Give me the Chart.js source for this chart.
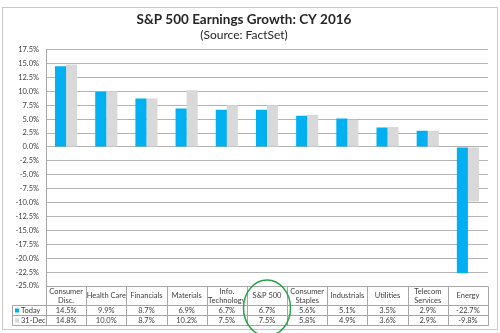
<!DOCTYPE html>
<html>
<head>
<meta charset="utf-8">
<script src="https://cdn.jsdelivr.net/npm/chart.js@4"></script>
<style>
  html, body { margin: 0; padding: 0; background: #fff; }
  #wrap { width: 500px; height: 333px; position: relative; }
</style>
</head>
<body>
<div id="wrap"><canvas id="chart"></canvas></div>
<script>
// data
const categories = [["Consumer", "Disc."], "Health Care", "Financials", "Materials", ["Info.", "Technology"], "S&P 500", ["Consumer", "Staples"], "Industrials", "Utilities", ["Telecom", "Services"], "Energy"];
const seriesNames = ["Today", "31-Dec"];
const today = [14.5, 9.9, 8.7, 6.9, 6.7, 6.7, 5.6, 5.1, 3.5, 2.9, -22.7];
const dec31 = [14.8, 10.0, 8.7, 10.2, 7.5, 7.5, 5.8, 4.9, 3.6, 2.9, -9.8];
const yMin = -25, yMax = 17.5, yStep = 2.5;
const highlightIndex = 5; // S&P 500 column circled in green

const colors = ["#00b0f0", "#d9d9d9"];
const font = "Lato, 'Liberation Sans', sans-serif";

// outer frame + data table drawn under the plot
const tablePlugin = {
  id: "dataTable",
  beforeDraw(chart) {
    const ctx = chart.ctx;
    ctx.save();
    ctx.strokeStyle = "#c8c8c8";
    ctx.lineWidth = 1;
    ctx.strokeRect(2.5, 7.5, 495, 322);
    ctx.restore();
  },
  afterDraw(chart) {
    const { ctx, chartArea: a, scales: { x } } = chart;
    const n = categories.length;
    const colW = (a.right - a.left) / n;
    const top = Math.round(a.bottom) + 0.5;
    const r1 = top + 19, r2 = r1 + 10, r3 = r2 + 10;
    const legL = 12.5;

    ctx.save();
    ctx.strokeStyle = "#a6a6a6";
    ctx.lineWidth = 1;
    const line = (x1, y1, x2, y2) => {
      ctx.beginPath(); ctx.moveTo(x1, y1); ctx.lineTo(x2, y2); ctx.stroke();
    };
    line(a.left, top, a.right, top);
    [r1, r2, r3].forEach(y => line(legL, y, Math.round(a.right) + 0.5, y));
    for (let i = 0; i <= n; i++) {
      const xx = Math.round(a.left + i * colW) + 0.5;
      line(xx, top, xx, r3);
    }
    line(legL, r1, legL, r3);

    ctx.fillStyle = "#404040";
    ctx.textAlign = "center";
    ctx.textBaseline = "middle";
    ctx.font = "7.5px " + font;
    categories.forEach((c, i) => {
      const cx = x.getPixelForValue(i);
      const lines = Array.isArray(c) ? c : [c];
      const mid = (top + r1) / 2;
      lines.forEach((t, k) => {
        ctx.fillText(t, cx, mid + (k - (lines.length - 1) / 2) * 8.5);
      });
      ctx.fillText(today[i].toFixed(1) + "%", cx, (r1 + r2) / 2 + 0.5);
      ctx.fillText(dec31[i].toFixed(1) + "%", cx, (r2 + r3) / 2 + 0.5);
    });

    // legend keys in the first table column
    [r1, r2].forEach((y, k) => {
      ctx.fillStyle = colors[k];
      ctx.fillRect(15, y + 3, 4, 4);
      ctx.fillStyle = "#404040";
      ctx.textAlign = "left";
      ctx.fillText(seriesNames[k], 21, y + 5.5);
    });

    // green circle round the S&P 500 column
    ctx.strokeStyle = "#2ca24a";
    ctx.lineWidth = 1.5;
    ctx.beginPath();
    ctx.ellipse(x.getPixelForValue(highlightIndex), (top + r3) / 2 + 2, 23.5, 28, 0, 0, Math.PI * 2);
    ctx.stroke();
    ctx.restore();
  }
};

new Chart(document.getElementById("chart"), {
  type: "bar",
  data: {
    labels: categories,
    datasets: [
      { label: seriesNames[0], data: today, backgroundColor: colors[0] },
      { label: seriesNames[1], data: dec31, backgroundColor: colors[1] }
    ]
  },
  options: {
    responsive: true,
    maintainAspectRatio: false,
    animation: false,
    layout: { padding: { left: 0, right: 12, top: 0, bottom: 47 } },
    datasets: { bar: { categoryPercentage: 0.55, barPercentage: 1.0 } },
    plugins: {
      legend: { display: false },
      tooltip: { enabled: false },
      title: {
        display: true,
        text: "S&P 500 Earnings Growth: CY 2016",
        color: "#262626",
        font: { family: font, size: 13.5, weight: "bold" },
        padding: { top: 12, bottom: 0 }
      },
      subtitle: {
        display: true,
        text: "(Source: FactSet)",
        color: "#262626",
        font: { family: font, size: 12 },
        padding: { top: 0, bottom: 7 }
      }
    },
    scales: {
      x: { display: false },
      y: {
        min: yMin,
        max: yMax,
        afterFit(scale) { scale.width = 46; },
        ticks: {
          stepSize: yStep,
          padding: 7,
          color: "#404040",
          font: { family: font, size: 7.5 },
          callback: v => v.toFixed(1) + "%"
        },
        grid: { color: "#b3b3b3", drawTicks: false },
        border: { display: true, color: "#a6a6a6" }
      }
    }
  },
  plugins: [tablePlugin]
});
</script>
</body>
</html>
